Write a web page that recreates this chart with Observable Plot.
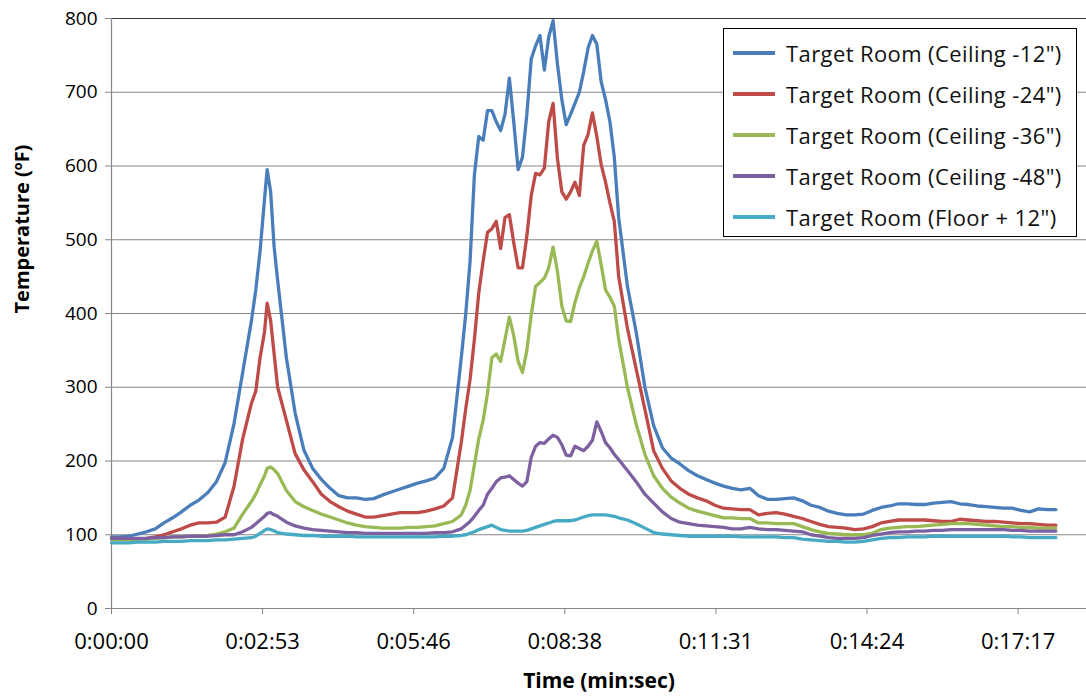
<!DOCTYPE html>
<html><head><meta charset="utf-8">
<script src="https://cdn.jsdelivr.net/npm/d3@7"></script>
<script src="https://cdn.jsdelivr.net/npm/@observablehq/plot@0.6"></script>
<style>
body{margin:0;background:#fff;}
#wrap{position:relative;width:1086px;height:696px;font-family:"Open Sans",sans-serif;}
.legend{position:absolute;left:723px;top:28px;width:354px;height:209px;border:1px solid #000;background:#fff;box-sizing:border-box;}
.row{position:absolute;left:0;height:40px;}
.sw{position:absolute;left:9px;top:18px;width:42px;height:4px;}
.lt{position:absolute;left:62px;top:0;line-height:40px;white-space:nowrap;font-size:22px;letter-spacing:0.4px;color:#111;}
</style></head>
<body><div id="wrap"></div>
<script>
const seriesNames = ['Target Room (Ceiling -12")','Target Room (Ceiling -24")','Target Room (Ceiling -36")','Target Room (Ceiling -48")','Target Room (Floor + 12")'];
const seriesColors = ["#4A7EBB","#BE4B48","#98B954","#7D60A0","#46AAC5"];
const yTicks = [0,100,200,300,400,500,600,700,800];
const xTicks = [0,172.8,345.6,518.4,691.2,864,1036.8];
const xTickLabels = ["0:00:00","0:02:53","0:05:46","0:08:38","0:11:31","0:14:24","0:17:17"];
const xTitle = "Time (min:sec)";
const yTitle = "Temperature (ºF)";

// time in seconds
const times = [0,10,20,30,40,50,60,70,80,90,100,110,120,130,
140,150,160,
165,170,175,178,182,186,
190,200,210,220,230,240,250,260,270,280,290,300,310,320,330,340,350,360,370,380,390,
400,405,410,415,420,425,430,435,440,445,450,455,460,465,470,475,480,485,490,495,500,505,510,515,520,525,530,535,540,545,550,555,560,565,570,575,580,
590,600,610,620,630,640,650,660,670,680,690,700,710,720,730,740,750,760,770,780,790,800,810,820,830,840,850,860,870,880,890,900,910,920,930,940,950,960,970,980,990,1000,1010,1020,1030,1040,1050,1060,1070,1080];

const ceil12 = [97,97,98,101,104,108,116,123,131,140,147,157,172,198,
250,320,390,
432,486,555,595,565,490,
445,340,265,215,190,175,163,153,150,150,148,149,154,158,162,166,170,173,177,190,232,
340,398,470,588,640,635,675,675,660,648,670,719,660,595,612,670,745,763,777,730,775,797,738,690,656,670,685,700,728,760,777,765,714,690,660,612,530,
437,375,300,248,218,204,196,187,180,175,170,166,163,161,163,153,148,148,149,150,146,140,137,132,129,127,127,128,133,137,139,142,142,141,141,143,144,145,142,141,139,138,137,136,136,133,131,135,134,134];

const ceil24 = [95,95,94,94,95,97,100,104,108,113,116,116,117,124,
165,230,278,
295,341,375,414,390,345,
300,255,210,188,172,155,145,138,132,128,124,124,126,128,130,130,130,132,135,139,150,
225,270,310,365,428,471,510,515,525,488,530,534,496,462,462,505,560,590,588,597,660,685,610,565,555,565,578,560,628,643,672,640,602,578,550,525,450,
380,325,270,214,190,173,163,155,150,146,140,136,135,134,134,127,129,130,128,125,122,118,114,111,110,109,107,108,111,116,118,120,120,120,120,119,118,118,121,120,119,118,118,117,116,115,115,114,113,113];

const ceil36 = [93,93,93,94,94,95,96,97,97,98,98,99,101,104,
109,128,145,
155,168,180,190,192,188,
183,160,145,138,133,128,124,120,116,113,111,110,109,109,109,110,110,111,112,115,118,
127,140,160,195,230,255,292,340,345,335,365,395,370,335,320,350,398,437,442,448,462,490,457,410,390,389,415,435,450,468,485,498,466,432,422,410,365,
300,250,209,180,163,151,143,136,132,129,126,123,123,122,122,116,116,115,115,115,111,107,104,102,101,100,100,100,102,107,109,110,111,111,112,113,114,115,115,115,114,113,112,111,111,110,110,109,109,109];

const ceil48 = [95,95,95,95,95,96,96,97,97,98,98,98,99,100,
100,104,110,
115,120,125,129,130,127,
125,117,112,109,107,106,105,104,103,103,102,102,102,102,102,102,102,102,103,103,104,
108,113,118,125,133,140,155,163,172,177,178,180,175,170,166,172,205,220,225,224,230,235,232,222,208,207,220,217,214,220,228,253,240,225,218,209,202,
187,172,155,143,131,122,117,115,113,112,111,110,108,108,110,108,107,107,106,105,104,100,98,96,95,95,95,96,99,101,103,104,104,105,105,106,106,107,107,107,107,107,107,107,106,106,105,105,105,105];

const floor12 = [89,89,89,90,90,90,91,91,91,92,92,92,93,93,
94,95,96,
98,102,106,108,107,105,
103,101,100,99,99,98,98,98,98,97,97,97,97,97,97,97,97,97,97,98,98,
99,100,102,104,107,109,111,113,110,107,106,105,105,105,105,106,108,110,112,114,116,118,119,119,119,119,120,122,124,126,127,127,127,127,126,125,123,
120,115,109,103,101,100,99,98,98,98,98,98,98,97,97,97,97,97,96,96,94,93,92,91,91,90,90,91,93,95,96,96,97,97,97,98,98,98,98,98,98,98,98,98,97,97,96,96,96,96];

const seriesValues = [ceil12, ceil24, ceil36, ceil48, floor12];
const rows = [];
seriesValues.forEach((vals, i) => {
  vals.forEach((v, j) => rows.push({s: seriesNames[i], t: times[j], v}));
});

const chart = Plot.plot({
  width: 1086, height: 696,
  marginLeft: 111, marginRight: 0, marginTop: 18, marginBottom: 88,
  x: {domain: [0, 1115]},
  y: {domain: [0, 800]},
  color: {domain: seriesNames, range: seriesColors},
  style: {fontFamily: '"Open Sans", sans-serif', fontSize: "18px", color: "#000", background: "#fff"},
  marks: [
    Plot.gridY(yTicks.slice(1, -1), {stroke: "#868686", strokeOpacity: 1, strokeWidth: 1}),
    Plot.ruleY(yTicks.slice(-1), {stroke: "#3a3a3a", strokeWidth: 1.2}),
    Plot.axisY({ticks: yTicks, tickSize: 6, tickPadding: 8, label: null, stroke: "#868686", fill: "#000", fontSize: 19}),
    Plot.axisX({ticks: xTicks, tickSize: 6, tickPadding: 19, label: null, stroke: "#868686", fill: "#000", fontSize: 22,
      tickFormat: d => xTickLabels[xTicks.indexOf(d)]}),
    Plot.ruleX([0], {stroke: "#868686", strokeWidth: 1.2}),
    Plot.ruleY([0], {stroke: "#868686", strokeWidth: 1.2}),
    Plot.line(rows, {x: "t", y: "v", z: "s", stroke: "s", strokeWidth: 3.3, strokeLinejoin: "round"}),
    Plot.text([yTitle], {frameAnchor: "left", dx: -89, rotate: -90, fontWeight: "bold", fontSize: 20, fill: "#000"}),
    Plot.text([xTitle], {frameAnchor: "bottom", dy: 79, fontWeight: "bold", fontSize: 21, fill: "#000"})
  ]
});

const wrap = document.getElementById("wrap");
wrap.appendChild(chart);
const legend = document.createElement("div");
legend.className = "legend";
seriesNames.forEach((name, i) => {
  const row = document.createElement("div");
  row.className = "row";
  row.style.top = (4 + 41 * i) + "px";
  row.style.width = "100%";
  const sw = document.createElement("div");
  sw.className = "sw";
  sw.style.background = seriesColors[i];
  const lt = document.createElement("div");
  lt.className = "lt";
  lt.textContent = name;
  row.appendChild(sw); row.appendChild(lt);
  legend.appendChild(row);
});
wrap.appendChild(legend);
</script>
</body></html>
